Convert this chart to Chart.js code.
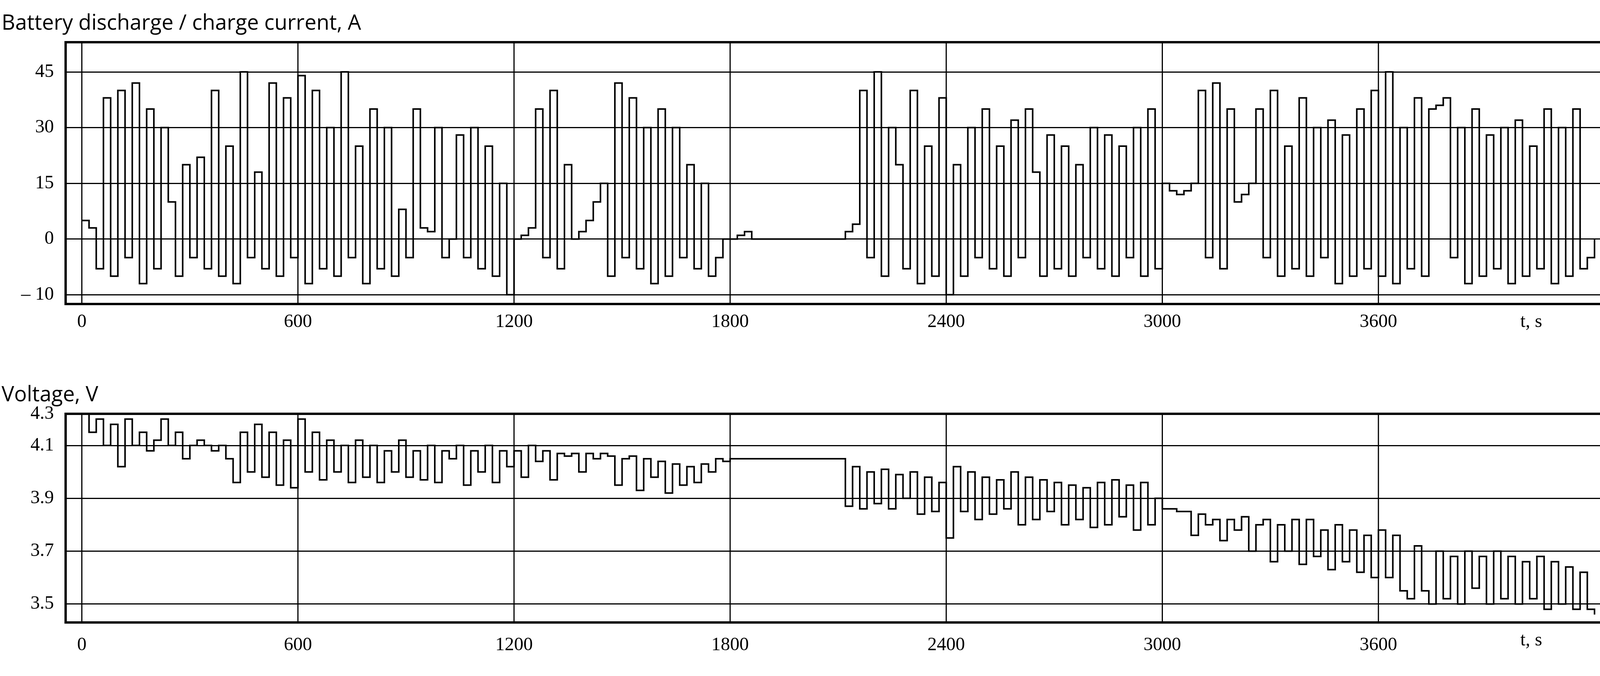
<!DOCTYPE html>
<html>
<head>
<meta charset="utf-8">
<script src="https://cdn.jsdelivr.net/npm/chart.js@4/dist/chart.umd.min.js"></script>
<style>
  body { margin:0; background:#fff; width:4236px; height:1730px; overflow:hidden; }
  canvas { display:block; }
</style>
</head>
<body>
<canvas id="chart" width="4236" height="1730" style="width:4236px;height:1730px"></canvas>
<script>
// samples every 20 s, from 0 to 4200 s
const tStep = 20;
const xTicks = [0, 600, 1200, 1800, 2400, 3000, 3600];

// current, A (the -10 grid row sits one step below 0, like the original plot)
const current = [
  5,3,-8,38,-10,40,-5,42,-12,35,-8,30,10,-10,20,-5,22,-8,40,-10,25,-12,45,-5,18,-8,42,-10,38,-5,
  44,-12,40,-8,30,-10,45,-5,25,-12,35,-8,30,-10,8,-5,35,3,2,30,-5,0,28,-5,30,-8,25,-10,15,-15,
  0,1,3,35,-5,40,-8,20,0,2,5,10,15,-10,42,-5,38,-8,30,-12,35,-10,30,-5,20,-8,15,-10,-5,0,
  0,1,2,0,0,0,0,0,0,0,0,0,0,0,0,0,2,4,40,-5,45,-10,30,20,-8,40,-12,25,-10,38,
  -15,20,-10,30,-5,35,-8,25,-10,32,-5,35,18,-10,28,-8,25,-10,20,-5,30,-8,28,-10,25,-5,30,-10,35,-8,
  15,13,12,13,15,40,-5,42,-8,35,10,12,15,35,-5,40,-10,25,-8,38,-10,30,-5,32,-12,28,-10,35,-8,40,
  -10,45,-12,30,-8,38,-10,35,36,38,-5,30,-12,35,-10,28,-8,30,-12,32,-10,25,-8,35,-12,30,-10,35,-8,-5,0
];
const currentTicks = [45, 30, 15, 0, -15];
const currentLabels = ['45', '30', '15', '0', '– 10'];

// voltage, V
const voltage = [
  4.22,4.15,4.2,4.1,4.18,4.02,4.2,4.1,4.15,4.08,4.12,4.2,4.1,4.15,4.05,4.1,4.12,4.1,4.08,4.1,4.05,3.96,4.15,4.0,4.18,3.98,4.15,3.95,4.12,3.94,
  4.2,4.0,4.15,3.97,4.12,4.0,4.1,3.96,4.12,3.98,4.1,3.96,4.08,4.0,4.12,3.98,4.08,3.97,4.1,3.96,4.08,4.05,4.1,3.95,4.08,4.0,4.1,3.96,4.08,4.02,
  4.08,3.98,4.1,4.04,4.08,3.97,4.07,4.06,4.07,4.0,4.07,4.05,4.07,4.06,3.95,4.05,4.06,3.93,4.05,3.98,4.04,3.92,4.03,3.95,4.02,3.96,4.03,4.0,4.05,4.04,
  4.05,4.05,4.05,4.05,4.05,4.05,4.05,4.05,4.05,4.05,4.05,4.05,4.05,4.05,4.05,4.05,3.87,4.02,3.86,4.0,3.88,4.01,3.86,3.99,3.9,4.0,3.84,3.98,3.85,3.96,
  3.75,4.02,3.85,4.0,3.82,3.98,3.84,3.97,3.86,4.0,3.8,3.98,3.82,3.97,3.85,3.96,3.8,3.95,3.82,3.94,3.79,3.96,3.8,3.97,3.83,3.95,3.78,3.96,3.8,3.9,
  3.86,3.86,3.85,3.85,3.76,3.84,3.8,3.82,3.74,3.82,3.78,3.83,3.7,3.8,3.82,3.66,3.8,3.7,3.82,3.65,3.82,3.68,3.78,3.63,3.8,3.66,3.78,3.62,3.76,3.6,
  3.78,3.6,3.76,3.55,3.52,3.72,3.55,3.5,3.7,3.52,3.68,3.5,3.7,3.56,3.68,3.5,3.7,3.52,3.68,3.5,3.66,3.52,3.68,3.48,3.66,3.5,3.64,3.48,3.62,3.48,3.46
];
const voltageTicks = [4.22, 4.1, 3.9, 3.7, 3.5];
const voltageLabels = ['4.3', '4.1', '3.9', '3.7', '3.5'];

const toPoints = arr => arr.map((v, i) => ({ x: i * tStep, y: v }));
const serif48 = '48px "Liberation Serif", serif';

// both panels share one canvas: vertical grid, frames, titles, letters
const panelPlugin = {
  id: 'panels',
  beforeDatasetsDraw(chart) {
    const c = chart.ctx, x = chart.scales.x;
    c.save();
    c.strokeStyle = '#000';
    c.lineWidth = 3;
    for (const id of ['yC', 'yV']) {
      const y = chart.scales[id];
      for (const t of xTicks) {
        const px = x.getPixelForValue(t);
        c.beginPath(); c.moveTo(px, y.top); c.lineTo(px, y.bottom); c.stroke();
      }
    }
    c.restore();
  },
  afterDraw(chart) {
    const c = chart.ctx, x = chart.scales.x;
    const panels = [
      { y: chart.scales.yC, title: 'Battery discharge / charge current, A', letter: 'a' },
      { y: chart.scales.yV, title: 'Voltage, V', letter: 'b' }
    ];
    c.save();
    c.fillStyle = '#000';
    c.strokeStyle = '#000';
    for (const p of panels) {
      const y = p.y;
      c.lineWidth = 6;
      c.strokeRect(x.left, y.top, x.right - x.left, y.bottom - y.top);
      c.font = '54px "Open Sans", sans-serif';
      c.textAlign = 'left';
      c.textBaseline = 'bottom';
      c.fillText(p.title, 4, y.top - 20);
      c.font = serif48;
      c.textAlign = 'center';
      c.textBaseline = 'top';
      c.fillText('t, s', x.right - 185, y.bottom + 22);
      c.font = '92px "Liberation Serif", serif';
      c.textBaseline = 'middle';
      c.fillText(p.letter, x.right + 78, (y.top + y.bottom) / 2 + 40);
    }
    // x labels of the upper panel
    c.font = serif48;
    c.textBaseline = 'top';
    for (const t of xTicks) c.fillText(String(t), x.getPixelForValue(t), chart.scales.yC.bottom + 22);
    c.restore();
  }
};

const yCommon = (ticks, labels) => ({
  stack: 'panels',
  afterBuildTicks: s => { s.ticks = ticks.map(v => ({ value: v })); },
  afterFit: s => { s.width = 168; },
  grid: { color: '#000', lineWidth: 3, drawTicks: false },
  border: { display: false },
  ticks: { color: '#000', font: { size: 48, family: '"Liberation Serif", serif' }, padding: 30,
    callback: v => labels[ticks.indexOf(v)] }
});

new Chart(document.getElementById('chart'), {
  type: 'line',
  data: { datasets: [
    { data: toPoints(current), yAxisID: 'yC', borderColor: '#000', borderWidth: 4, pointRadius: 0, stepped: true, fill: false },
    { data: toPoints(voltage), yAxisID: 'yV', borderColor: '#000', borderWidth: 4, pointRadius: 0, stepped: true, fill: false }
  ] },
  options: {
    responsive: false, animation: false, devicePixelRatio: 1,
    layout: { padding: { top: 108, right: 131, left: 0, bottom: 0 } },
    plugins: { legend: { display: false }, tooltip: { enabled: false } },
    scales: {
      x: {
        type: 'linear', min: -45, max: 4225,
        afterBuildTicks: s => { s.ticks = xTicks.map(v => ({ value: v })); },
        afterFit: s => { s.height = 137; },
        grid: { display: false },
        border: { display: false },
        ticks: { color: '#000', font: { size: 48, family: '"Liberation Serif", serif' }, padding: 22,
          maxRotation: 0, callback: v => String(v) }
      },
      yV: Object.assign(yCommon(voltageTicks, voltageLabels), { min: 3.43, max: 4.22, stackWeight: 534 }),
      yGap: { stack: 'panels', stackWeight: 281, min: 0, max: 1, afterFit: s => { s.width = 168; },
        grid: { display: false }, border: { display: false }, ticks: { display: false } },
      yC: Object.assign(yCommon(currentTicks, currentLabels), { min: -17.5, max: 53, stackWeight: 670 })
    }
  },
  plugins: [panelPlugin]
});
</script>
</body>
</html>
